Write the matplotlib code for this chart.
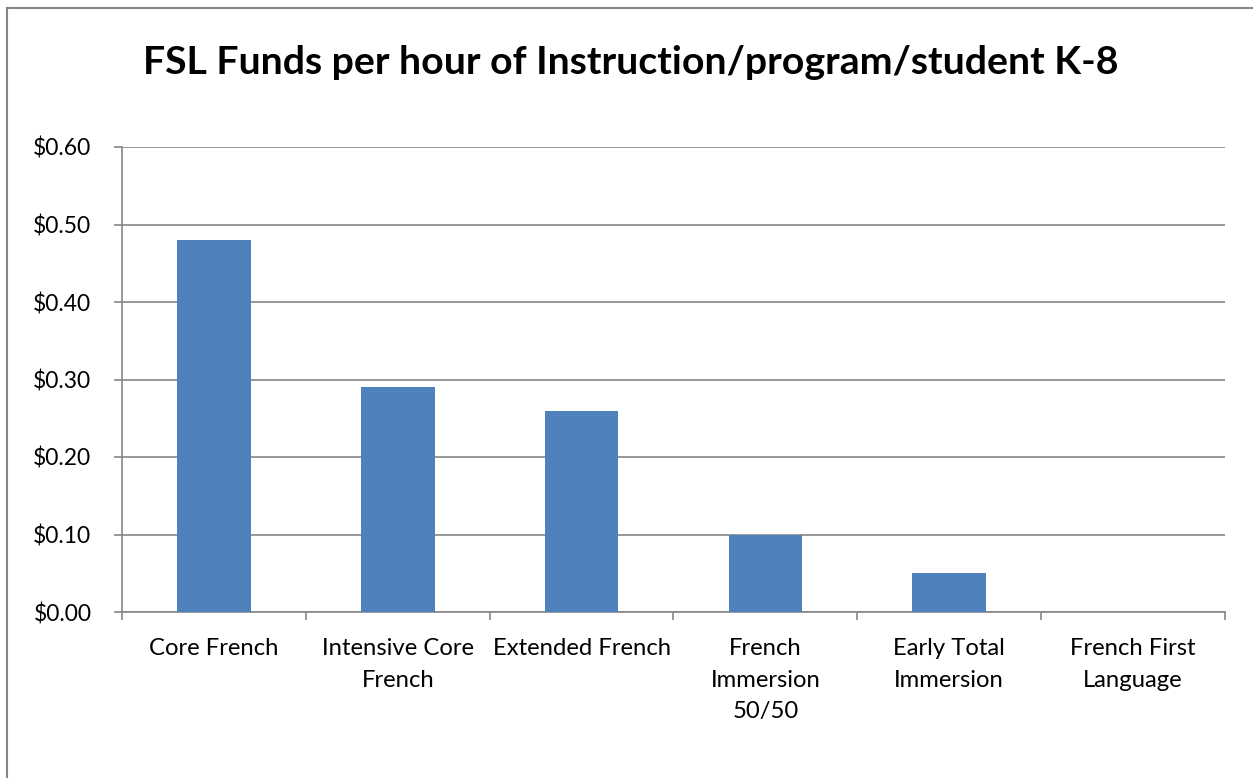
import numpy as np
import matplotlib.pyplot as plt
from matplotlib.patches import Rectangle
from matplotlib.ticker import FuncFormatter

categories = ["Core French", "Intensive Core\nFrench", "Extended French",
              "French\nImmersion\n50/50", "Early Total\nImmersion",
              "French First\nLanguage"]
funds = [0.48, 0.29, 0.26, 0.10, 0.05, 0.00]
y_ticks = [0.0, 0.1, 0.2, 0.3, 0.4, 0.5, 0.6]

plt.rcParams["font.family"] = ["Lato", "DejaVu Sans"]
grey = "#868686"

fig = plt.figure(figsize=(12.53, 7.78), dpi=100)
ax = fig.add_axes([122 / 1253, 1 - 612 / 778, (1225 - 122) / 1253, (612 - 147) / 778])

# outer chart frame, cut off at right and bottom like the original
fig.patches.append(Rectangle((7 / 1253, -0.1), 1.2, 1 - 8 / 778 + 0.1,
                             transform=fig.transFigure, fill=False,
                             edgecolor=grey, linewidth=1.5))

x = np.arange(len(categories))
ax.bar(x, funds, width=0.4, color="#4F81BD", zorder=3)

ax.set_xlim(-0.5, len(categories) - 0.5)
ax.set_ylim(0, 0.6)
ax.set_yticks(y_ticks)
ax.yaxis.set_major_formatter(FuncFormatter(lambda v, p: f"${v:.2f}"))
ax.grid(axis="y", color=grey, linewidth=1.2, zorder=0)

ax.set_xticks(x)
ax.set_xticklabels(categories, fontsize=17.2, linespacing=1.62, va="top")
ax.set_xticks(np.arange(-0.5, len(categories)), minor=True)
ax.tick_params(axis="x", which="major", length=0, pad=19)
ax.tick_params(axis="x", which="minor", length=6, color=grey, width=1.2)
ax.tick_params(axis="y", length=6, color=grey, width=1.2, pad=16, labelsize=16.5)

for side in ["top", "right"]:
    ax.spines[side].set_visible(False)
for side in ["left", "bottom"]:
    ax.spines[side].set_color(grey)
    ax.spines[side].set_linewidth(1.2)

fig.text(631 / 1253, 1 - 62 / 778, "FSL Funds per hour of Instruction/program/student K-8",
         ha="center", va="center", fontsize=28.3, fontweight="bold")

fig.savefig("out.png", dpi=100)
